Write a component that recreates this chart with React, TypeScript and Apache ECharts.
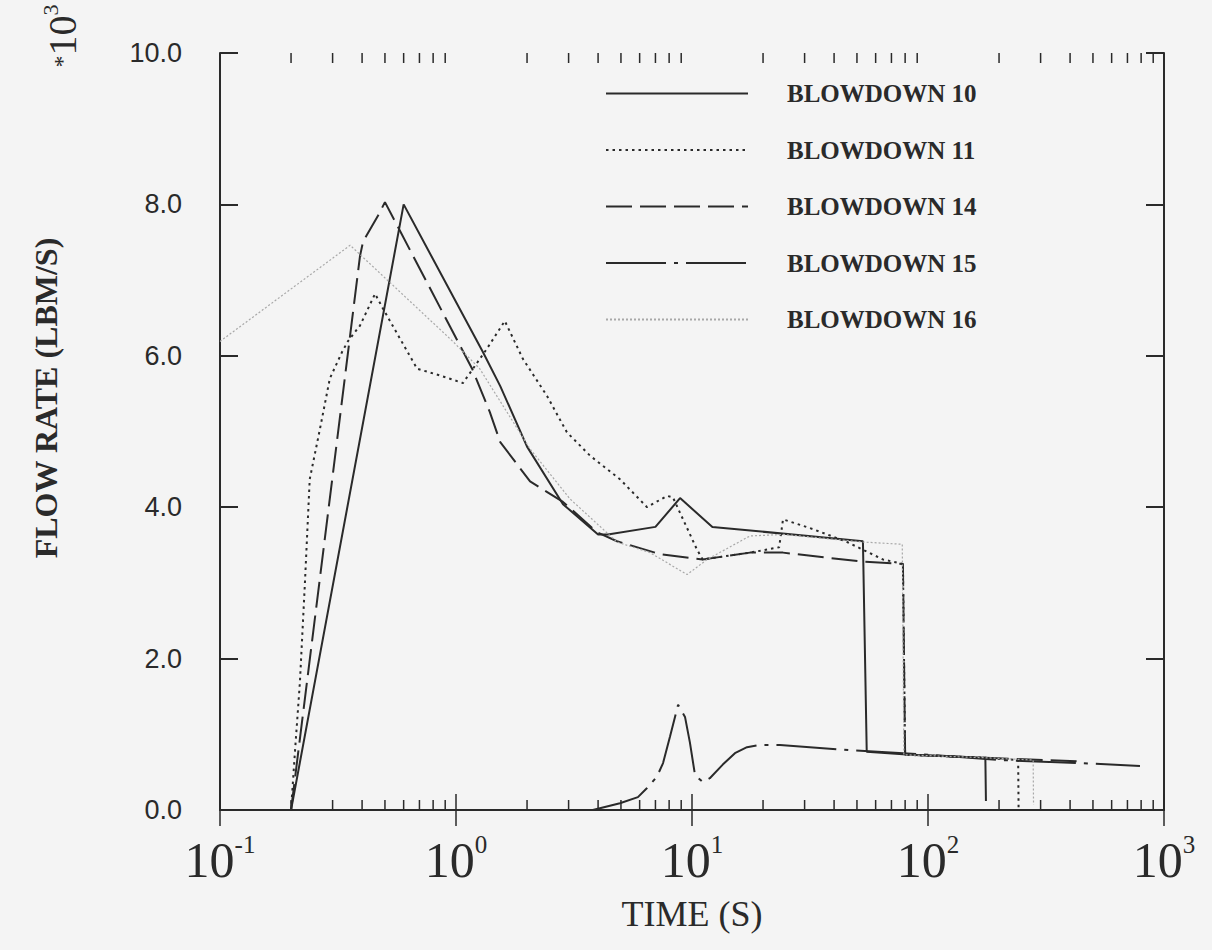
import React, { useEffect, useRef } from "react";
import * as echarts from "echarts";

// Axis ranges
const TIME_MIN = 0.1;
const TIME_MAX = 1000;
const FLOW_MIN = 0;
const FLOW_MAX = 10;
const FLOW_STEP = 2;

// Log-axis minor tick positions (2..9 in each decade)
const minorTickTimes = [
  0.2, 0.3, 0.4, 0.5, 0.6, 0.7, 0.8, 0.9,
  2, 3, 4, 5, 6, 7, 8, 9,
  20, 30, 40, 50, 60, 70, 80, 90,
  200, 300, 400, 500, 600, 700, 800, 900,
];

const seriesNames = [
  "BLOWDOWN 10",
  "BLOWDOWN 11",
  "BLOWDOWN 14",
  "BLOWDOWN 15",
  "BLOWDOWN 16",
];

// [time (s), flow rate (x10^3 lbm/s)]
const blowdown10 = [
  [0.2, 0], [0.6, 8.0], [1.3, 6.05], [1.54, 5.6], [2.0, 4.8], [2.84, 4.04],
  [4.0, 3.64], [4.4, 3.64], [7.0, 3.74], [8.9, 4.12], [12.2, 3.74], [53, 3.55],
  [55, 0.77], [84, 0.73], [175, 0.69], [176, 0.12],
];

const blowdown11 = [
  [0.2, 0], [0.208, 0.79], [0.218, 1.68], [0.229, 3.0], [0.24, 4.37], [0.265, 5.03],
  [0.292, 5.7], [0.329, 6.05], [0.348, 6.19], [0.392, 6.4], [0.454, 6.82], [0.491, 6.62],
  [0.684, 5.83], [0.855, 5.74], [1.07, 5.64], [1.35, 6.09], [1.61, 6.46], [1.92, 5.96],
  [2.43, 5.47], [2.95, 4.99], [3.7, 4.68], [4.95, 4.37], [6.45, 4.0], [7.84, 4.15],
  [8.3, 4.13], [10.5, 3.44], [11.1, 3.31], [17.6, 3.4], [23.4, 3.47], [24.3, 3.84],
  [32.6, 3.71], [45.4, 3.54], [64.4, 3.31], [78.3, 3.25], [80, 0.73], [175, 0.69],
  [241, 0.66], [242, 0.03],
];

const blowdown14 = [
  [0.2, 0], [0.392, 7.32], [0.404, 7.51], [0.467, 7.85], [0.5, 8.03], [1.17, 5.83],
  [1.39, 5.26], [1.54, 4.86], [2.06, 4.34], [2.84, 4.07], [3.96, 3.67], [4.81, 3.55],
  [7.32, 3.38], [11.1, 3.31], [17.6, 3.4], [24.3, 3.4], [53, 3.28], [78.3, 3.25],
  [80, 0.73], [175, 0.69], [450, 0.64],
];

const blowdown15 = [
  [3.8, 0], [4.95, 0.09], [5.9, 0.17], [6.45, 0.29], [7.1, 0.44], [7.54, 0.62],
  [8.07, 0.97], [8.73, 1.39], [9.34, 1.23], [9.8, 0.89], [10.3, 0.46], [11.1, 0.37],
  [11.9, 0.42], [13.5, 0.6], [15.2, 0.75], [17.1, 0.83], [19.4, 0.86], [23.6, 0.86],
  [46.7, 0.79], [100, 0.73], [202, 0.66], [441, 0.62], [791, 0.58],
];

const blowdown16 = [
  [0.1, 6.19], [0.356, 7.46], [0.97, 6.19], [1.26, 5.83], [2.06, 4.77], [3.04, 4.11],
  [4.81, 3.54], [6.64, 3.4], [9.53, 3.11], [11.6, 3.31], [17.6, 3.62], [24.3, 3.64],
  [53, 3.54], [77.8, 3.51], [79, 0.73], [175, 0.69], [279, 0.66], [280, 0.07],
];

const INK = "#2a2a2a";
const SERIF = "'Liberation Serif', 'DejaVu Serif', serif";

export default function App() {
  const ref = useRef<HTMLDivElement>(null);

  useEffect(() => {
    if (!ref.current) return;
    const chart = echarts.init(ref.current, undefined, { renderer: "svg" });

    const lineBase = (name: string, data: number[][], style: any) => ({
      name,
      type: "line",
      data,
      symbol: "none",
      showSymbol: false,
      clip: false,
      lineStyle: style,
      itemStyle: { color: style.color },
      emphasis: { disabled: true },
      z: 3,
    });

    const option: any = {
      animation: false,
      backgroundColor: "#f4f4f4",
      grid: { left: 220, right: 48, top: 53, bottom: 140 },
      legend: {
        orient: "vertical",
        left: 600,
        top: 76,
        itemWidth: 142,
        itemHeight: 14,
        itemGap: 31.5,
        data: seriesNames,
        selectedMode: false,
        // line samples only, no marker in the middle
        itemStyle: { color: "rgba(0,0,0,0)", borderWidth: 0, opacity: 0 },
        textStyle: {
          fontFamily: SERIF,
          fontWeight: "bold",
          fontSize: 25,
          color: INK,
          padding: [0, 0, 0, 34],
        },
      },
      xAxis: [
        {
          type: "log",
          logBase: 10,
          min: TIME_MIN,
          max: TIME_MAX,
          position: "bottom",
          name: "TIME (S)",
          nameLocation: "middle",
          nameGap: 86,
          nameTextStyle: { fontFamily: SERIF, fontSize: 36, color: INK },
          axisLine: { show: true, lineStyle: { color: INK, width: 2 } },
          axisTick: { show: true, inside: true, length: 16, lineStyle: { color: INK, width: 1.5 } },
          splitLine: { show: false },
          minorTick: { show: false },
          axisLabel: {
            margin: 22,
            formatter: (v: number) => `{b|10}{s|${Math.round(Math.log10(v))}}`,
            rich: {
              b: { fontFamily: SERIF, fontSize: 50, color: INK, lineHeight: 56 },
              s: { fontFamily: SERIF, fontSize: 25, color: INK, lineHeight: 35, verticalAlign: "top" },
            },
          },
        },
        {
          type: "log",
          logBase: 10,
          min: TIME_MIN,
          max: TIME_MAX,
          position: "top",
          axisLine: { show: true, lineStyle: { color: INK, width: 2 } },
          axisTick: { show: true, inside: true, length: 16, lineStyle: { color: INK, width: 1.5 } },
          axisLabel: { show: false },
          splitLine: { show: false },
        },
      ],
      yAxis: [
        {
          type: "value",
          min: FLOW_MIN,
          max: FLOW_MAX,
          interval: FLOW_STEP,
          position: "left",
          axisLine: { show: true, lineStyle: { color: INK, width: 2 } },
          axisTick: { show: true, inside: true, length: 18, lineStyle: { color: INK, width: 2 } },
          splitLine: { show: false },
          axisLabel: {
            margin: 38,
            fontFamily: "'Liberation Sans', Arial, sans-serif",
            fontSize: 27,
            color: INK,
            formatter: (v: number) => v.toFixed(1),
          },
        },
        {
          type: "value",
          min: FLOW_MIN,
          max: FLOW_MAX,
          interval: FLOW_STEP,
          position: "right",
          axisLine: { show: true, lineStyle: { color: INK, width: 2 } },
          axisTick: { show: true, inside: true, length: 18, lineStyle: { color: INK, width: 2 } },
          axisLabel: { show: false },
          splitLine: { show: false },
        },
      ],
      graphic: [
        {
          type: "text",
          x: 46,
          y: 398,
          rotation: Math.PI / 2,
          style: {
            text: "FLOW RATE (LBM/S)",
            align: "center",
            verticalAlign: "middle",
            fontFamily: SERIF,
            fontWeight: "bold",
            fontSize: 32,
            fill: INK,
          },
        },
        {
          type: "text",
          x: 62,
          y: 36,
          rotation: Math.PI / 2,
          style: {
            text: "{a|*}{b|10}{s|3}",
            align: "center",
            verticalAlign: "middle",
            fill: INK,
            rich: {
              a: { fontFamily: SERIF, fontSize: 24, fill: INK, lineHeight: 46 },
              b: { fontFamily: SERIF, fontSize: 40, fill: INK, lineHeight: 46 },
              s: { fontFamily: SERIF, fontSize: 22, fill: INK, lineHeight: 26, verticalAlign: "top" },
            },
          },
        },
      ],
      series: [
        lineBase(seriesNames[0], blowdown10, { color: INK, width: 2, type: "solid" }),
        lineBase(seriesNames[1], blowdown11, { color: INK, width: 2, type: [2.5, 4] }),
        lineBase(seriesNames[2], blowdown14, { color: INK, width: 2, type: [26, 8] }),
        lineBase(seriesNames[3], blowdown15, { color: INK, width: 2, type: [60, 8, 4, 8] }),
        lineBase(seriesNames[4], blowdown16, { color: "#a8a8a8", width: 1.2, type: [2, 2] }),
        {
          type: "custom",
          name: "minor ticks",
          silent: true,
          clip: false,
          data: minorTickTimes.map((t) => [t]),
          encode: { x: 0 },
          renderItem: (_params: any, api: any) => {
            const t = api.value(0);
            const bottom = api.coord([t, FLOW_MIN]);
            const top = api.coord([t, FLOW_MAX]);
            const style = { stroke: INK, lineWidth: 1.5 };
            return {
              type: "group",
              children: [
                { type: "line", shape: { x1: bottom[0], y1: bottom[1], x2: bottom[0], y2: bottom[1] - 10 }, style },
                { type: "line", shape: { x1: top[0], y1: top[1], x2: top[0], y2: top[1] + 10 }, style },
              ],
            };
          },
          z: 2,
        },
      ],
    };

    chart.setOption(option);
    return () => chart.dispose();
  }, []);

  return (
    <div
      ref={ref}
      style={{ position: "absolute", left: 0, top: 0, width: 1212, height: 950 }}
    />
  );
}
